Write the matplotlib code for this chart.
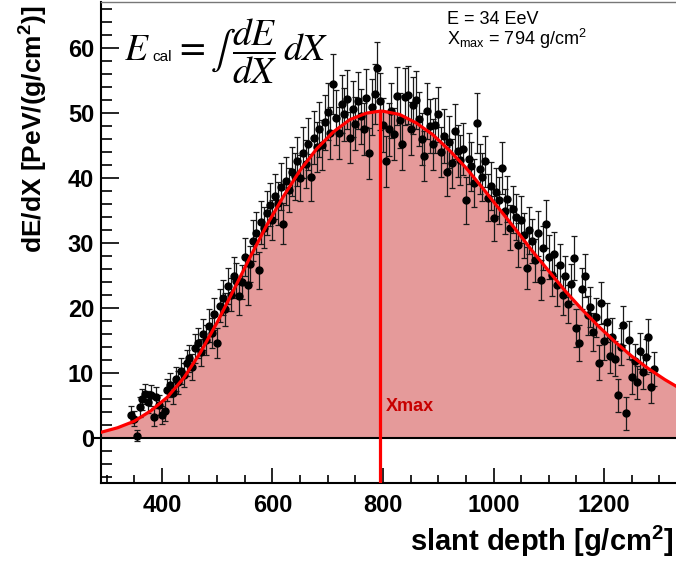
import matplotlib
matplotlib.use('Agg')
from matplotlib import pyplot as plt
from matplotlib.ticker import MultipleLocator

plt.rcParams['font.family'] = ['Liberation Sans', 'DejaVu Sans']
plt.rcParams['mathtext.fontset'] = 'custom'
plt.rcParams['mathtext.rm'] = 'Liberation Sans'
plt.rcParams['mathtext.bf'] = 'Liberation Sans:bold'

depth = list(range(345, 1291, 5))
dedx = [
    3.6, 3.0, 0.4, 4.8, 6.0, 6.8, 5.6, 6.6, 3.2, 6.3,
    5.1, 3.6, 4.2, 7.4, 8.2, 6.9, 9.1, 8.6, 10.4, 9.7,
    11.6, 12.3, 10.9, 13.8, 14.6, 13.2, 16.0, 15.1, 17.3, 16.2,
    19.1, 14.6, 20.4, 21.6, 19.8, 23.4, 22.1, 25.0, 24.2, 21.8,
    24.0, 27.9, 23.5, 26.8, 30.4, 31.6, 25.8, 33.2, 32.4, 34.6,
    35.9, 33.6, 37.2, 36.1, 38.7, 33.0, 39.6, 38.2, 41.0, 40.3,
    42.6, 40.0, 43.9, 42.2, 45.3, 40.1, 46.2, 44.8, 47.5, 45.1,
    48.6, 50.2, 46.9, 54.5, 49.3, 47.0, 51.4, 49.8, 52.1, 46.2,
    50.6, 48.4, 51.9, 49.5, 47.6, 52.3, 43.8, 50.9, 53.0, 57.0,
    51.8, 48.2, 42.6, 47.5, 50.4, 46.8, 52.6, 48.9, 45.3, 52.5,
    52.8, 47.6, 51.2, 52.0, 49.1, 46.0, 43.4, 50.3, 48.0, 45.2,
    48.1, 49.8, 44.0, 46.5, 41.0, 45.6, 42.3, 47.2, 44.1, 42.8,
    44.5, 36.6, 43.0, 41.8, 39.2, 48.5, 41.4, 40.2, 42.6, 37.0,
    38.8, 33.8, 37.9, 36.6, 41.5, 34.9, 36.8, 32.4, 35.2, 34.0,
    29.7, 33.6, 31.2, 26.2, 32.0, 30.3, 27.4, 31.5, 24.3, 29.2,
    33.0, 27.9, 25.1, 28.3, 23.5, 26.6, 22.0, 24.9, 20.6, 23.7,
    27.7, 17.0, 14.6, 23.0, 25.0, 18.9, 20.2, 16.3, 18.6, 11.6,
    20.8, 14.9, 17.8, 12.7, 15.6, 12.2, 6.6, 14.1, 17.4, 3.8,
    15.1, 9.4, 11.8, 8.6, 13.4, 10.2, 12.5, 15.5, 7.8, 10.6,
]
dedx_err = [
    1.3, 1.2, 0.8, 1.5, 1.6, 1.5, 1.7, 1.6, 1.4, 1.6,
    1.5, 1.4, 1.5, 1.7, 1.8, 1.7, 1.9, 1.8, 2.0, 1.9,
    2.0, 2.1, 2.0, 2.2, 2.3, 2.1, 2.4, 2.3, 2.5, 2.3,
    2.5, 2.3, 2.6, 2.7, 2.5, 2.8, 2.6, 2.9, 2.7, 2.8,
    2.6, 2.9, 3.0, 2.8, 3.1, 3.2, 2.9, 3.3, 3.1, 3.4,
    3.3, 3.1, 3.5, 3.3, 3.6, 3.2, 3.7, 3.4, 3.8, 3.6,
    3.8, 3.5, 3.9, 3.7, 4.0, 3.6, 4.1, 3.9, 4.2, 3.9,
    4.2, 4.4, 4.0, 4.6, 4.2, 4.0, 4.4, 4.1, 4.5, 3.9,
    4.3, 4.1, 4.4, 4.2, 4.0, 4.5, 3.9, 4.3, 4.6, 4.0,
    4.4, 4.2, 3.9, 4.1, 4.3, 4.0, 4.5, 4.2, 4.0, 4.4,
    4.5, 4.1, 4.4, 4.5, 4.2, 4.0, 3.9, 4.3, 4.1, 3.9,
    4.2, 4.3, 3.9, 4.1, 3.8, 4.0, 3.8, 4.2, 4.0, 3.8,
    4.0, 3.6, 3.9, 3.8, 3.7, 4.6, 3.8, 3.7, 3.9, 3.6,
    3.7, 3.5, 3.7, 3.6, 4.0, 3.5, 3.6, 3.4, 3.6, 3.5,
    3.4, 3.6, 3.5, 3.2, 3.6, 3.4, 3.3, 3.5, 3.1, 3.4,
    3.7, 3.4, 3.2, 3.4, 3.1, 3.3, 3.0, 3.2, 2.9, 3.1,
    3.4, 2.9, 2.8, 3.2, 3.3, 3.0, 3.1, 2.9, 3.0, 2.7,
    3.2, 2.8, 3.0, 2.7, 2.9, 2.7, 2.5, 2.8, 3.0, 2.6,
    2.9, 2.6, 2.7, 2.5, 2.8, 2.6, 2.7, 2.9, 2.4, 2.6,
]

# fitted profile
fit_depth = [290, 320, 350, 380, 410, 440, 470, 500, 530, 560, 590, 620,
             650, 680, 710, 740, 770, 794, 800, 830, 860, 890, 920, 950,
             980, 1010, 1040, 1070, 1100, 1130, 1160, 1190, 1220, 1250,
             1280, 1310, 1330]
fit_dedx = [0.9, 1.6, 2.6, 4.2, 6.3, 9.3, 13.2, 17.8, 22.8, 27.9, 32.8, 37.2,
            41.2, 44.5, 47.1, 49.0, 50.0, 50.3, 50.3, 49.8, 48.5, 46.7, 44.3, 41.6,
            38.5, 35.3, 32.1, 28.8, 25.7, 22.6, 19.8, 17.2, 14.8, 12.6,
            10.7, 9.0, 8.0]

xmax = 794
energy_eev = 34

fig = plt.figure(figsize=(6.76, 5.66), dpi=100)
ax = fig.add_axes([101 / 676, 83 / 566, 1 - 101 / 676, 481 / 566])
ax.set_xlim(290, 1330)
ax.set_ylim(-6.9, 67.1)

# shaded area under the fit
ax.fill_between(fit_depth, 0, fit_dedx, color='#e59a9a', lw=0, zorder=1)
ax.plot([278, 1330], [0, 0], color='black', lw=1.5, zorder=2, clip_on=False)

ax.errorbar(depth, dedx, yerr=dedx_err, fmt='o', color='black', ms=5,
            ecolor='#1a1a1a', elinewidth=0.9, capsize=2.5, capthick=0.9, zorder=3)

ax.plot(fit_depth, fit_dedx, color='#ff0000', lw=2.3, zorder=4)
ax.plot([xmax, xmax], [-6.9, max(fit_dedx)], color='#ff0000', lw=2.3, zorder=4)
ax.text(805, 4.2, 'Xmax', color='#c80000', fontsize=13, fontweight='bold',
        va='baseline', ha='left', zorder=5)

# frame and ticks (ROOT-like)
ax.spines['right'].set_visible(False)
ax.spines['top'].set_color('#777777')
ax.spines['top'].set_linewidth(1)
ax.spines['left'].set_linewidth(1.5)
ax.spines['bottom'].set_linewidth(1.5)
ax.xaxis.set_major_locator(MultipleLocator(200))
ax.xaxis.set_minor_locator(MultipleLocator(50))
ax.yaxis.set_major_locator(MultipleLocator(10))
ax.yaxis.set_minor_locator(MultipleLocator(2))
ax.tick_params(which='both', direction='in', top=False, right=False, width=1.2)
ax.tick_params(axis='x', which='major', length=11, pad=8)
ax.tick_params(axis='x', which='minor', length=5.5)
ax.tick_params(axis='y', which='major', length=13, pad=5)
ax.tick_params(axis='y', which='minor', length=8)
for lab in ax.get_xticklabels() + ax.get_yticklabels():
    lab.set_fontsize(17)
    lab.set_fontweight('bold')

fig.text(410 / 676, 1 - 551 / 566, r'slant depth [g/cm$^{\mathbf{2}}$]',
         fontsize=21, fontweight='bold', ha='left', va='baseline')
fig.text(33 / 676, 1 - 5 / 566, r'dE/dX [PeV/(g/cm$^{\mathbf{2}}$)]',
         fontsize=19, fontweight='bold', rotation=90, ha='center', va='top')

# calorimetric energy formula
fig.text(124 / 676, 1 - 60 / 566, r'$E$', fontsize=27, math_fontfamily='stix',
         ha='left', va='baseline')
fig.text(152 / 676, 1 - 61 / 566, 'cal', fontsize=11, ha='left', va='baseline')
fig.text(174 / 676, 1 - 60 / 566, r'$=\int\,\dfrac{dE}{dX}\,dX$', fontsize=27,
         math_fontfamily='stix', ha='left', va='baseline')

fig.text(447 / 676, 1 - 24 / 566, f'E = {energy_eev} EeV', fontsize=13,
         ha='left', va='baseline')
fig.text(447 / 676, 1 - 45 / 566, r'X$_{\rm max}$ = ' + f'{xmax}' + r' g/cm$^{2}$',
         fontsize=13, ha='left', va='baseline')

fig.savefig('out.png', dpi=100)
